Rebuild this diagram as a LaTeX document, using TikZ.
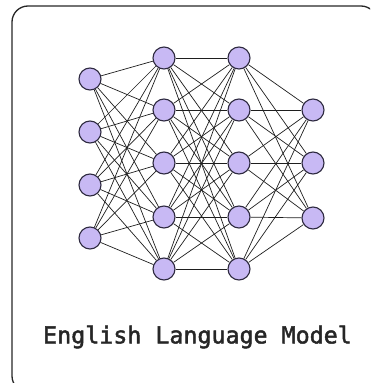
\documentclass[tikz,border=0pt]{standalone}
\usepackage{fontspec}
\newfontfamily\labelfont{DejaVu Sans Mono}
\definecolor{neuron}{HTML}{C8B9F4}
\definecolor{neuronline}{HTML}{2E2A40}
\definecolor{wire}{HTML}{1E1E1E}
\begin{document}
\begin{tikzpicture}[x=1pt,y=-1pt,
  neuronnode/.style={circle,draw=neuronline,fill=neuron,line width=1.1pt,minimum size=22pt,inner sep=0pt},
  wireline/.style={draw=wire,line width=0.7pt},
  frame/.style={draw=black!85,line width=1.3pt,rounded corners=16pt}]
\useasboundingbox (0,0) rectangle (370,383);
\begin{scope}
\clip (0,0) rectangle (370,383);
\draw[frame] (12,6) rectangle (377,392);
\end{scope}
% layers
\foreach \i/\y in {1/79,2/132,3/185,4/238} \node[neuronnode] (a\i) at (90,\y) {};
\foreach \i/\y in {1/58,2/110,3/163,4/217,5/269} \node[neuronnode] (b\i) at (164,\y) {};
\foreach \i/\y in {1/58,2/110,3/163,4/217,5/269} \node[neuronnode] (c\i) at (239,\y) {};
\foreach \i/\y in {1/110,2/163,3/218} \node[neuronnode] (d\i) at (313,\y) {};
% connections
\foreach \i in {1,...,4} \foreach \j in {1,...,5} \draw[wireline] (a\i) -- (b\j);
\foreach \i in {1,...,5} \foreach \j in {1,...,5} \draw[wireline] (b\i) -- (c\j);
\foreach \i in {1,...,5} \foreach \j in {1,...,3} \draw[wireline] (c\i) -- (d\j);
\node[text=black!85] (title) at (197.5,337) {\labelfont\fontsize{23.3}{27}\selectfont\special{pdf:literal direct 2 Tr 0.45 w}English Language Model\special{pdf:literal direct 0 Tr}};
\end{tikzpicture}
\end{document}
